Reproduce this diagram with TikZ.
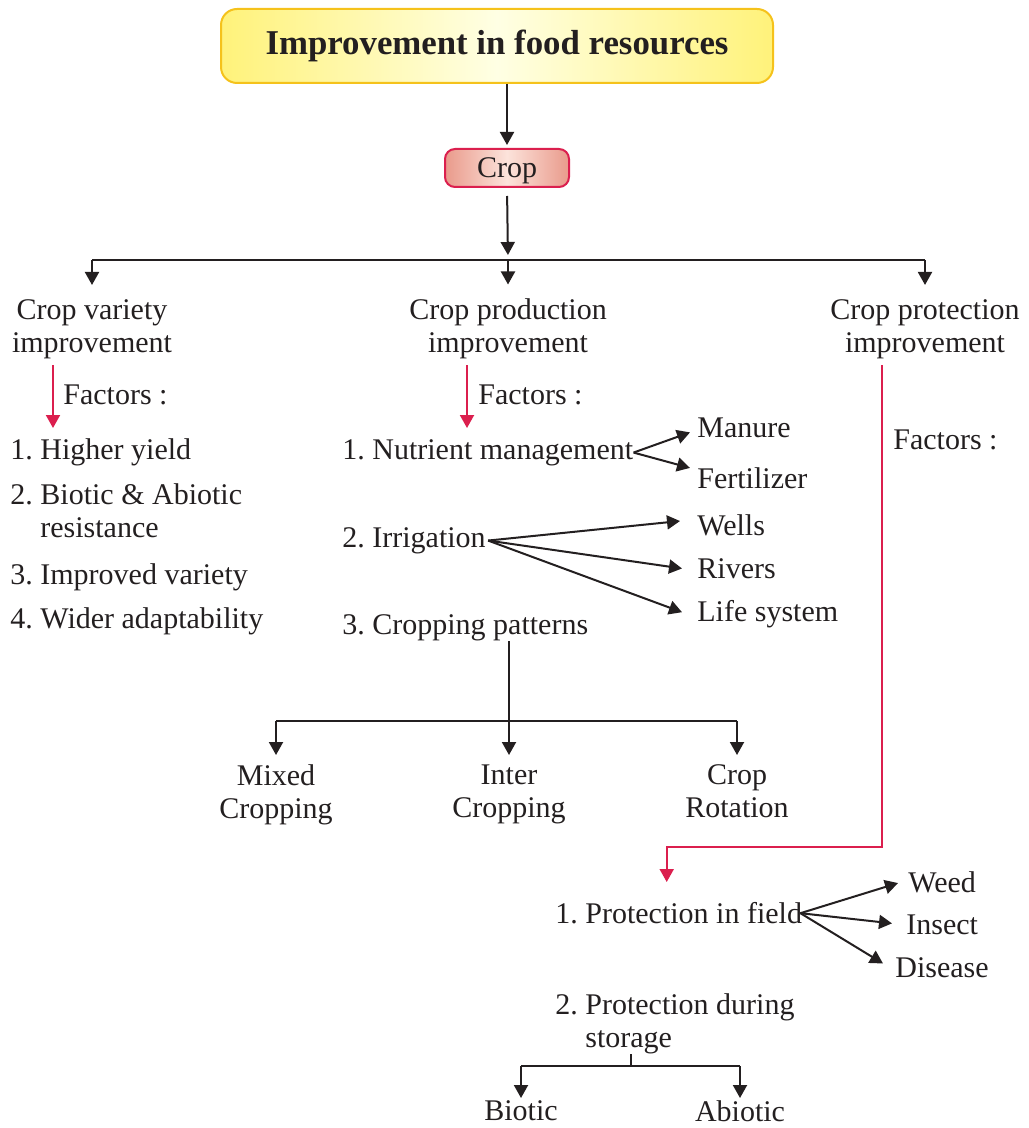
\documentclass[tikz,border=0pt]{standalone}
\usepackage{fontspec}
\setmainfont{Liberation Serif}
\usetikzlibrary{arrows.meta}
\definecolor{ink}{HTML}{231F20}
\definecolor{crimson}{HTML}{DB1F4E}
\definecolor{titleedge}{HTML}{FFF27A}
\definecolor{titlemid}{HTML}{FFFFE4}
\definecolor{titleline}{HTML}{F5C21B}
\definecolor{cropedge}{HTML}{E99A8B}
\definecolor{cropmid}{HTML}{FCE3DB}
\begin{document}
\frenchspacing
\begin{tikzpicture}[x=0.5pt,y=-0.5pt,
  txt/.style={font=\fontsize{15}{16.5}\selectfont,text=ink,inner sep=0pt},
  item/.style={txt,anchor=north west,align=left},
  toplabel/.style={txt,align=center},
  wire/.style={draw=ink,line width=1pt},
  arr/.style={wire,-{Triangle[length=6.5pt,width=7pt]}},
  redarr/.style={arr,draw=crimson},
  cropbox/.style={txt,draw=crimson,line width=1pt,rounded corners=5pt,
    left color=cropedge,right color=cropedge,middle color=cropmid,
    text height=10pt,text depth=0pt,minimum width=62pt,minimum height=19pt}]
\useasboundingbox (0,0) rectangle (1028,1128);
% top of the tree
\node[draw=titleline,line width=1pt,rounded corners=8pt,
  left color=titleedge,right color=titleedge,middle color=titlemid,
  minimum width=276pt,minimum height=37pt,text=ink,
  font=\fontsize{17.4}{20}\selectfont\bfseries] (title) at (497,46) {Improvement in food resources};
\node[cropbox] (crop) at (507,168) {Crop};
\coordinate (split) at (508,260);
\draw[arr,shorten >=1.5pt] (title.south -| crop) -- (crop.north);
\draw[arr,shorten <=4pt,shorten >=2.5pt] (crop.south) -- (split);

% three branches
\node[toplabel] (var) at (92,329) {Crop variety\\improvement};
\node[toplabel] (prod) at (508,329) {Crop production\\improvement};
\node[toplabel] (prot) at (925,329) {Crop protection\\improvement};
\draw[wire] (split -| var) -- (split -| prot);
\foreach \n in {var,prod,prot}
  \draw[arr] (split -| \n) -- ([yshift=7pt]\n.north);

% crop variety
\node[item] (facA) at (63,384) {Factors :};
\node[item] (hy) at (10,438) {1. Higher yield};
\node[item] (ba) at (10,483) {2. Biotic \& Abiotic\\\hphantom{2. }resistance};
\node[item] (iv) at (10,563) {3. Improved variety};
\node[item] (wa) at (10,607) {4. Wider adaptability};
\coordinate (ra) at (53,365);
\coordinate (rb) at (53,428);
\draw[redarr] (ra) -- (rb);

% crop production
\node[item] (facB) at (478,384) {Factors :};
\node[item] (nm) at (342,439) {1. Nutrient management};
\node[item] (irr) at (342,527) {2. Irrigation};
\node[item] (cp) at (342,614) {3. Cropping patterns};
\node[item] (manure) at (697,417) {Manure};
\node[item] (fert) at (697,467) {Fertilizer};
\node[item] (wells) at (697,514) {Wells};
\node[item] (rivers) at (697,558) {Rivers};
\node[item] (life) at (697,600) {Life system};
\coordinate (rp) at (467,365);
\coordinate (rq) at (467,428);
\draw[redarr] (rp) -- (rq);
\draw[arr] (nm.east) -- ([shift={(-7,5)}]manure.west);
\draw[arr] (nm.east) -- ([shift={(-7,-10)}]fert.west);
\draw[arr] ([xshift=1pt]irr.east) -- ([shift={(-17,-4)}]wells.west);
\draw[arr] ([xshift=1pt]irr.east) -- ([shift={(-15,0)}]rivers.west);
\draw[arr] ([xshift=1pt]irr.east) -- ([shift={(-15,-2)}]life.west);

\node[toplabel,anchor=north] (mixed) at (276,764) {Mixed\\Cropping};
\node[toplabel,anchor=north] (inter) at (509,764) {Inter\\Cropping};
\node[toplabel,anchor=north] (rot) at (737,764) {Crop\\Rotation};
\coordinate (cpj) at (509,721);
\draw[arr] (cp.south -| inter) -- ([yshift=4.5pt]inter.north);
\draw[wire] (mixed |- cpj) -- (rot |- cpj);
\draw[arr] (mixed |- cpj) -- ([yshift=4.5pt]mixed.north);
\draw[arr] (rot |- cpj) -- ([yshift=4.5pt]rot.north);

% crop protection
\node[item] (facC) at (893,429) {Factors :};
\node[item] (pf) at (555,902) {1. Protection in field};
\node[item] (pd) at (555,993) {2. Protection during\\\hphantom{2. }storage};
\node[item] (weed) at (908,871) {Weed};
\node[item] (insect) at (906,914) {Insect};
\node[item] (disease) at (895,957) {Disease};
\coordinate (rc) at (882,365);
\coordinate (rd) at (882,847);
\draw[redarr] (rc) -- (rd) -| ([xshift=-6pt,yshift=10pt]pf.north);
\draw[arr] ([xshift=-1pt]pf.east) -- ([shift={(-10,1)}]weed.west);
\draw[arr] ([xshift=-1pt]pf.east) -- ([shift={(-14,-1)}]insect.west);
\draw[arr] ([xshift=-1pt]pf.east) -- ([shift={(-12,-4)}]disease.west);

\node[txt,anchor=north] (biotic) at (521,1100) {Biotic};
\node[txt,anchor=north] (abiotic) at (740,1100) {Abiotic};
\coordinate (stj) at (631,1066);
\draw[wire] (stj |- pd.south) -- (stj);
\draw[wire] (biotic |- stj) -- (abiotic |- stj);
\draw[arr] (biotic |- stj) -- ([yshift=1pt]biotic.north);
\draw[arr] (abiotic |- stj) -- ([yshift=1pt]abiotic.north);
\end{tikzpicture}
\end{document}
